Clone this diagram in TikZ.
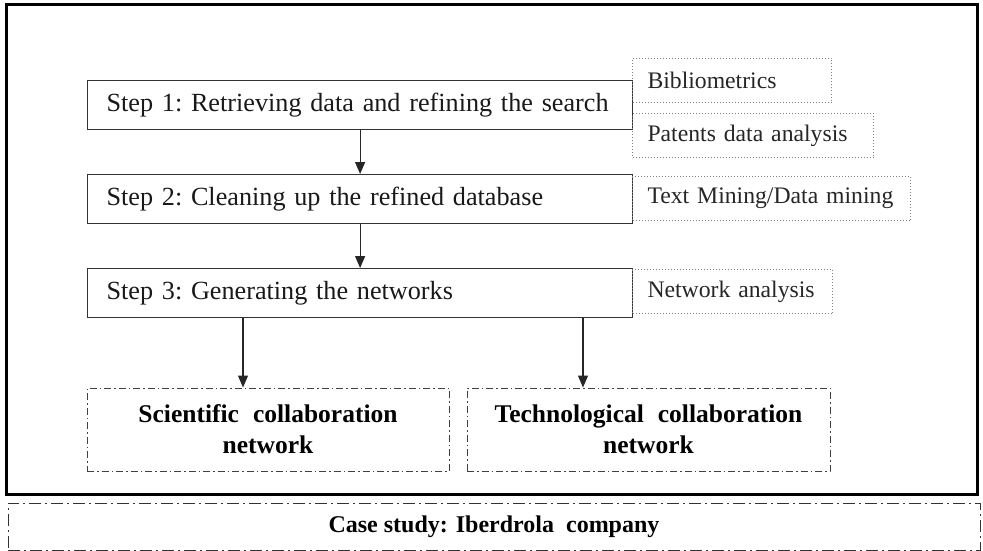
\documentclass[tikz,border=0pt]{standalone}
\usepackage{fontspec}
\setmainfont{Liberation Serif}
\usetikzlibrary{arrows.meta,positioning}
\newcommand\stepfont{\fontsize{26.2}{30}\selectfont\frenchspacing\spaceskip=12.5pt plus 2pt\relax}
\newcommand\netfont{\bfseries\fontsize{25.5}{31}\selectfont\spaceskip=14pt plus 2pt\relax}
\tikzset{
  frame/.style    = {draw=black, line width=3pt},
  stepbox/.style  = {draw=black!80, line width=1.2pt, anchor=north west,
                     minimum height=49pt, inner xsep=19pt, inner ysep=0pt,
                     text width=507pt, align=left, text=black!90, font=\stepfont},
  sidebox/.style  = {draw=black!50, dotted, line width=1pt, anchor=north west,
                     minimum height=44pt, inner xsep=15pt, inner ysep=0pt,
                     align=left, text=black!85,
                     font=\fontsize{23.7}{27}\selectfont},
  netbox/.style   = {draw=black!75, line width=1pt,
                     dash pattern=on 7pt off 3pt on 1.5pt off 3pt,
                     minimum height=83pt, align=center, font=\netfont},
  casebox/.style  = {draw=black!80, line width=1pt,
                     dash pattern=on 12pt off 4pt on 2pt off 4pt},
  arr/.style      = {-{Triangle[length=12pt,width=10pt]}, line width=1.2pt, black!85},
}
\begin{document}
\begin{tikzpicture}[x=1pt,y=-1pt]
  \useasboundingbox (0,0) rectangle (983,551);
  % outer frame and case study strip
  \draw[frame] (6,5) rectangle (977,494);
  \node[casebox, minimum width=972pt, minimum height=47pt] (case) at (494,526.5) {};
  \node[font=\bfseries\fontsize{24}{28}\selectfont] (casetxt) at (case) {Case study: Iberdrola\ \ company};

  % steps
  \node[stepbox] (s1) at (87,80)  {Step 1: Retrieving data and refining the search};
  \node[stepbox] (s2) at (87,174) {Step 2: Cleaning up the refined database};
  \node[stepbox] (s3) at (87,268) {Step 3: Generating the networks};

  % methods
  \node[sidebox, text width=169pt] (bib) at (632,58)  {Bibliometrics};
  \node[sidebox, text width=211pt] (pat) at (632,113) {Patents data analysis};
  \node[sidebox, text width=248pt] (tm)  at (632,176) {Text Mining/Data mining};
  \node[sidebox, text width=170pt] (na)  at (632,269) {Network analysis};

  % outcomes
  \node[netbox, minimum width=362pt] (sci)  at (268,429.5)   {Scientific collaboration\\network};
  \node[netbox, minimum width=363pt] (tech) at (648.5,429.5) {Technological collaboration\\network};

  \coordinate (a1) at (243,0);
  \coordinate (a2) at (583,0);
  \draw[arr] (s1) -- (s2);
  \draw[arr] (s2) -- (s3);
  \draw[arr] (s3.south -| a1) -- (sci.north -| a1);
  \draw[arr] (s3.south -| a2) -- (tech.north -| a2);
\end{tikzpicture}
\end{document}
